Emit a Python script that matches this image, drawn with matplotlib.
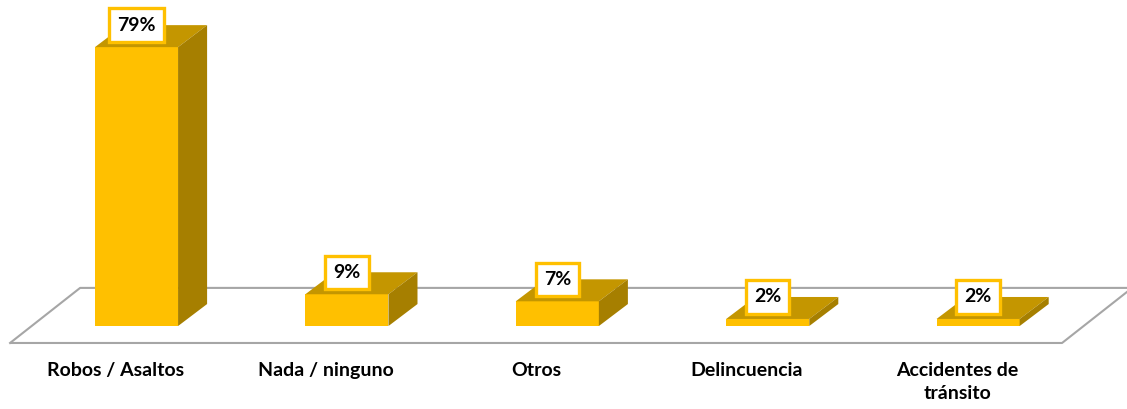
import matplotlib
matplotlib.use("Agg")
import matplotlib.pyplot as plt
from matplotlib.patches import Polygon

categories = ["Robos / Asaltos", "Nada / ninguno", "Otros", "Delincuencia", "Accidentes de\ntránsito"]
values = [79, 9, 7, 2, 2]
value_labels = ["79%", "9%", "7%", "2%", "2%"]

front_c = "#FFC000"
top_c = "#C49600"
side_c = "#A67F00"
floor_c = "#A6A6A6"

fig = plt.figure(figsize=(11.27, 4.09), dpi=100)
ax = fig.add_axes([0, 0, 1, 1])
ax.set_xlim(-0.6488, 4.7077)
ax.set_ylim(-23.5, 92.35)
ax.axis("off")

w = 0.395      # bar width (category units)
ddx = 0.138    # depth offset x
ddy = 6.23     # depth offset y (percent units)

# floor (outline)
fx0, fx1 = -0.601, 4.399
fy0 = -4.8
fdx, fdy = 0.333, 15.6
ax.plot([fx0, fx1, fx1 + fdx], [fy0, fy0, fy0 + fdy], color=floor_c, lw=1.5, zorder=1, solid_capstyle="butt")
ax.plot([fx0, fx0 + fdx, fx1 + fdx], [fy0, fy0 + fdy, fy0 + fdy], color=floor_c, lw=1.5, zorder=1)

for i, (v, lab) in enumerate(zip(values, value_labels)):
    x0, x1 = i - w / 2, i + w / 2
    front = Polygon([(x0, 0), (x1, 0), (x1, v), (x0, v)], closed=True, fc=front_c, ec="none", zorder=3)
    top = Polygon([(x0, v), (x1, v), (x1 + ddx, v + ddy), (x0 + ddx, v + ddy)], closed=True, fc=top_c, ec="none", zorder=3)
    side = Polygon([(x1, 0), (x1 + ddx, ddy), (x1 + ddx, v + ddy), (x1, v)], closed=True, fc=side_c, ec="none", zorder=3)
    for p in (front, top, side):
        ax.add_patch(p)
    ax.text(i, v + ddy, lab, ha="center", va="center", fontsize=14, fontweight="bold",
            family=["Lato", "DejaVu Sans"], color="black", zorder=5,
            bbox=dict(boxstyle="square,pad=0.42", fc="white", ec=front_c, lw=2.4))
    ax.text(i - 0.1, -10.2, categories[i], ha="center", va="top", fontsize=14, fontweight="bold",
            family=["Lato", "DejaVu Sans"], color="black", linespacing=1.4)

fig.savefig("out.png", dpi=100)
